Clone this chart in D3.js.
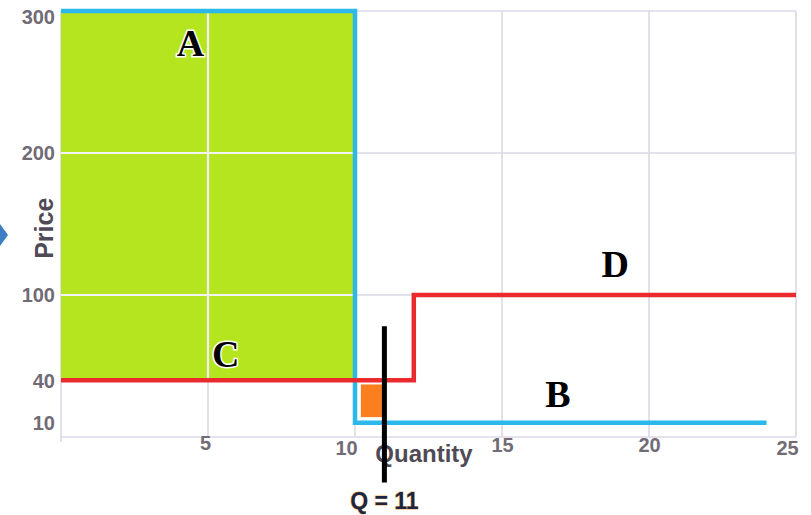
<!DOCTYPE html>
<html>
<head>
<meta charset="utf-8">
<script src="https://cdn.jsdelivr.net/npm/d3@7"></script>
<style>
  html, body { margin: 0; padding: 0; background: #fff; }
  svg { display: block; }
</style>
</head>
<body>
<svg id="chart" width="811" height="515"></svg>
<script>
// ---- data ----
const xTicks = [5, 10, 15, 20, 25];
const yTicks = [10, 40, 100, 200, 300];
const yGrid = [100, 200, 300];

const blueQ = [0, 10, 10, 24];
const blueP = [300, 300, 10, 10];

const redQ = [0, 12, 12, 25];
const redP = [40, 40, 100, 100];

const greenQ = [0, 10];
const greenP = [40, 300];

const orangeQ = [10.2, 11];
const orangeP = [14, 37];

const qValue = 11;
const qLineP = [78, -32];
const qLabel = "Q = 11";

const areaLabels = ["A", "B", "C", "D"];
const labelQ = [4.4, 16.9, 5.6, 18.85];
const labelP = [268, 21, 49, 113];

// ---- scales ----
const svg = d3.select("#chart");
const x = d3.scaleLinear().domain([0, 25]).range([61, 796]);
const y = d3.scaleLinear().domain([0, 300]).range([437, 11]);

const gridColor = "#dcd9e9";

// grid (background)
const grid = svg.append("g");
grid.selectAll("line.v").data(xTicks).join("line")
  .attr("x1", d => x(d)).attr("x2", d => x(d))
  .attr("y1", y(300)).attr("y2", y(0))
  .attr("stroke", gridColor).attr("stroke-width", 1.6);
grid.selectAll("line.h").data(yGrid).join("line")
  .attr("x1", x(0)).attr("x2", x(25))
  .attr("y1", d => y(d)).attr("y2", d => y(d))
  .attr("stroke", gridColor).attr("stroke-width", 1.6);

// axis lines
svg.append("line").attr("x1", x(0)).attr("x2", x(25)).attr("y1", y(0)).attr("y2", y(0))
  .attr("stroke", gridColor).attr("stroke-width", 1.6);
svg.append("line").attr("x1", x(0)).attr("x2", x(0)).attr("y1", y(300)).attr("y2", y(0) + 5)
  .attr("stroke", gridColor).attr("stroke-width", 1.6);

// green area
svg.append("rect")
  .attr("x", x(greenQ[0])).attr("y", y(greenP[1]))
  .attr("width", x(greenQ[1]) - x(greenQ[0]))
  .attr("height", y(greenP[0]) - y(greenP[1]))
  .attr("fill", "#b5e51e");

// white grid lines over green
const clip = svg.append("clipPath").attr("id", "gclip");
clip.append("rect")
  .attr("x", x(greenQ[0])).attr("y", y(greenP[1]))
  .attr("width", x(greenQ[1]) - x(greenQ[0]))
  .attr("height", y(greenP[0]) - y(greenP[1]));
const wg = svg.append("g").attr("clip-path", "url(#gclip)");
wg.selectAll("line.v").data(xTicks).join("line")
  .attr("x1", d => x(d)).attr("x2", d => x(d))
  .attr("y1", y(300)).attr("y2", y(0))
  .attr("stroke", "#f3f2f7").attr("stroke-width", 2.2);
wg.selectAll("line.h").data(yGrid).join("line")
  .attr("x1", x(0)).attr("x2", x(25))
  .attr("y1", d => y(d)).attr("y2", d => y(d))
  .attr("stroke", "#f3f2f7").attr("stroke-width", 2.2);

// orange square
svg.append("rect")
  .attr("x", x(orangeQ[0])).attr("y", y(orangeP[1]))
  .attr("width", x(orangeQ[1]) - x(orangeQ[0]))
  .attr("height", y(orangeP[0]) - y(orangeP[1]))
  .attr("fill", "#fb7e1f");

const line = d3.line().x(d => x(d[0])).y(d => y(d[1]));

// blue line
svg.append("path")
  .attr("d", line(blueQ.map((q, i) => [q, blueP[i]])))
  .attr("fill", "none").attr("stroke", "#2db8ec").attr("stroke-width", 4.5)
  .attr("stroke-linejoin", "miter");

// red line
svg.append("path")
  .attr("d", line(redQ.map((q, i) => [q, redP[i]])))
  .attr("fill", "none").attr("stroke", "#eb2a2d").attr("stroke-width", 4.5)
  .attr("stroke-linejoin", "miter");

// axes tick labels
const tickFont = "'Liberation Sans', Arial, sans-serif";
const yAxis = d3.axisLeft(y).tickValues(yTicks).tickSize(0).tickPadding(6);
const gy = svg.append("g").attr("transform", `translate(${x(0)},0)`).call(yAxis);
gy.select(".domain").remove();
gy.selectAll("text")
  .attr("font-family", tickFont).attr("font-size", 20).attr("font-weight", "bold")
  .attr("fill", "#716b76")
  .attr("dy", d => d === 300 ? "0.62em" : "0.34em");

const xOffsets = new Map([[10, -9], [25, -9]]);
const xAxis = d3.axisBottom(x).tickValues(xTicks).tickSize(0).tickPadding(7);
const gx = svg.append("g").attr("transform", `translate(0,${y(0)})`).call(xAxis);
gx.select(".domain").remove();
gx.selectAll("text")
  .attr("font-family", tickFont).attr("font-size", 20).attr("font-weight", "bold")
  .attr("fill", "#716b76")
  .attr("dx", d => xOffsets.get(d) || (d === 5 ? -3 : 0))
  .attr("dy", d => d === 5 ? "0.3em" : (d === 25 || d === 10 ? "0.55em" : "0.4em"));

// axis titles
svg.append("text")
  .attr("transform", `translate(53,${y(147)}) rotate(-90)`)
  .attr("text-anchor", "middle")
  .attr("font-family", tickFont).attr("font-size", 25).attr("font-weight", "bold")
  .attr("fill", "#4f4a55").text("Price");

svg.append("text")
  .attr("x", 424).attr("y", 462)
  .attr("text-anchor", "middle")
  .attr("font-family", tickFont).attr("font-size", 24).attr("font-weight", "bold")
  .attr("fill", "#4f4a55").text("Quantity");

// black Q line
svg.append("line")
  .attr("x1", x(qValue)).attr("x2", x(qValue))
  .attr("y1", y(qLineP[0])).attr("y2", y(qLineP[1]))
  .attr("stroke", "#000").attr("stroke-width", 5);

svg.append("text")
  .attr("x", x(qValue)).attr("y", 509)
  .attr("text-anchor", "middle")
  .attr("font-family", tickFont).attr("font-size", 23).attr("font-weight", "bold")
  .attr("fill", "#1d2540")
  .attr("stroke", "#f3b35a").attr("stroke-width", 0.8).attr("paint-order", "stroke")
  .text(qLabel);

// area letters
svg.selectAll("text.lbl").data(areaLabels).join("text")
  .attr("class", "lbl")
  .attr("x", (d, i) => x(labelQ[i])).attr("y", (d, i) => y(labelP[i]))
  .attr("text-anchor", "middle")
  .attr("font-family", "'Liberation Serif', 'Times New Roman', serif")
  .attr("font-size", 38).attr("font-weight", "bold")
  .attr("fill", "#000")
  .attr("stroke", (d) => (d === "A" || d === "C") ? "#fff" : "none")
  .attr("stroke-width", 3).attr("paint-order", "stroke")
  .text(d => d);

// left arrow fragment
svg.append("path")
  .attr("d", d3.line()([[0, 224], [8, 235], [0, 246]]))
  .attr("fill", "#3d7dc2");
</script>
</body>
</html>
